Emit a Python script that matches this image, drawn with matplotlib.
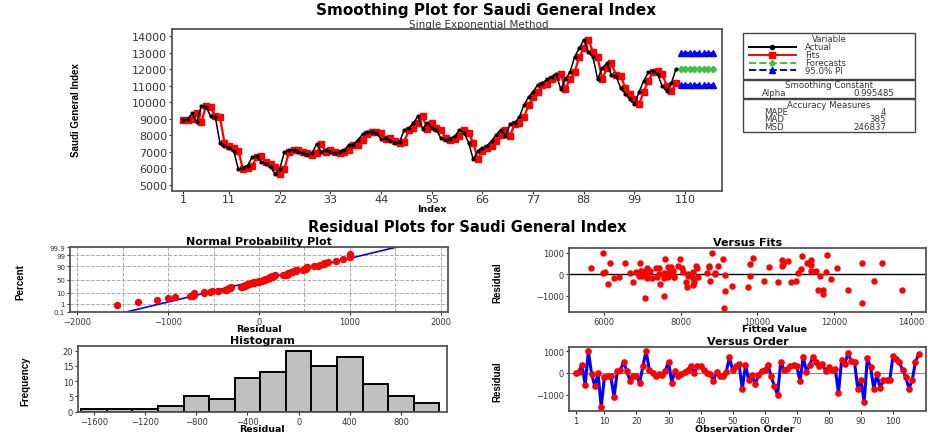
import numpy as np
import matplotlib.pyplot as plt
from matplotlib.patches import Rectangle
from matplotlib.lines import Line2D
from statistics import NormalDist

W, H = 929, 435

# Saudi General Index, observations 1..108
actual = [8900, 8960, 9340, 8800, 9800, 9740, 9140, 9120, 7560, 7380,
          7240, 7080, 5960, 6040, 6160, 6680, 6750, 6390, 6270, 6110,
          5660, 5980, 6980, 7120, 7120, 6980, 6920, 6830, 6940, 7460,
          7010, 7120, 6970, 6920, 6970, 7120, 7430, 7430, 7740, 8070,
          8190, 8190, 8130, 7780, 7820, 7680, 7560, 7600, 8320, 8430,
          8740, 9150, 8390, 8760, 8440, 8330, 7810, 7700, 7790, 7940,
          8320, 8160, 7550, 6550, 7070, 7210, 7370, 7680, 8040, 8350,
          7970, 8690, 8750, 9100, 9820, 10310, 10640, 11050, 11130, 11390,
          11530, 11700, 10780, 11390, 11810, 12730, 13250, 13760, 13040, 12720,
          11390, 12070, 12350, 11630, 11570, 10860, 10520, 10180, 9870, 10630,
          11280, 11800, 11910, 11710, 10990, 10660, 11150, 12000]

alpha = 0.995485
n_forecast = 8
pi_half = 950
accuracy = [("MAPE", "4"), ("MAD", "385"), ("MSD", "246837")]

ord_ticks = [1, 10, 20, 30, 40, 50, 60, 70, 80, 90, 100]
idx_ticks = [1, 11, 22, 33, 44, 55, 66, 77, 88, 99, 110]
prob_ticks = [0.1, 1, 10, 50, 90, 99, 99.9]

# single exponential smoothing
fits = [actual[0]]
for a in actual[:-1]:
    fits.append(fits[-1] + alpha * (a - fits[-1]))
fits = np.array(fits)
actual = np.array(actual, dtype=float)
resid = actual - fits
level = fits[-1] + alpha * (actual[-1] - fits[-1])
n = len(actual)
idx = np.arange(1, n + 1)
fc_idx = np.arange(n + 1, n + 1 + n_forecast)

TICK_C = '#333333'
FRAME_C = '#555555'
narrow = ['Liberation Sans Narrow', 'Liberation Sans', 'DejaVu Sans']

fig = plt.figure(figsize=(W / 100, H / 100), dpi=100)
fig.patch.set_facecolor('white')


def px_axes(l, t, r, b):
    return fig.add_axes([l / W, 1 - b / H, (r - l) / W, (b - t) / H])


def style(ax, fs):
    for s in ax.spines.values():
        s.set_color(FRAME_C)
        s.set_linewidth(1.3)
    ax.tick_params(labelsize=fs, colors=TICK_C, length=2.5, width=0.8, pad=1)


def ylab(x, y, text):
    fig.text(x / W, 1 - y / H, text, rotation=90, ha='center', va='center',
             family=narrow, fontweight='bold', fontsize=7)


def xlab(x, y, text):
    fig.text(x / W, 1 - y / H, text, ha='center', va='center',
             fontweight='bold', fontsize=6.8)


# ---- smoothing plot ----
ax = px_axes(172, 30, 722, 192)
ax.plot(idx, fits, color='red', lw=1.6, marker='s', ms=5, zorder=2)
ax.plot(idx, actual, color='black', lw=1.1, marker='o', ms=2.0, zorder=3)
ax.plot(fc_idx, [level] * n_forecast, color='#40c040', ls='--', lw=1.6,
        marker='D', ms=3.2)
ax.plot(fc_idx, [level + pi_half] * n_forecast, color='blue', ls='--', lw=1.6,
        marker='^', ms=3.8)
ax.plot(fc_idx, [level - pi_half] * n_forecast, color='blue', ls='--', lw=1.6,
        marker='^', ms=3.8)
ax.set_xlim(-1.39, 118.0)
ax.set_ylim(4640, 14420)
ax.set_yticks(range(5000, 14001, 1000))
ax.set_xticks(idx_ticks)
style(ax, 8)
ax.tick_params(axis='x', length=2, pad=0.5)
xlab(432, 210, 'Index')
ylab(76, 110, 'Saudi General Index')
fig.text(486 / W, 1 - 10.5 / H, 'Smoothing Plot for Saudi General Index',
         ha='center', va='center', fontsize=11, fontweight='bold')
fig.text(479 / W, 1 - 25 / H, 'Single Exponential Method',
         ha='center', va='center', fontsize=7.5, color='#333333')

# ---- legend / summary boxes ----
lax = px_axes(738, 30, 920, 136)
lax.set_xlim(738, 920)
lax.set_ylim(136, 30)
lax.axis('off')
for t, b in [(34, 80), (81, 99), (100, 133)]:
    lax.add_patch(Rectangle((743, t), 172, b - t, fill=False, ec='#444444', lw=1))
fs_leg = 6.2
lax.text(829, 40, 'Variable', ha='center', va='center', fontsize=fs_leg, color='#333')
rows = [('Actual', 'black', '-', 'o', 3), ('Fits', 'red', '-', 's', 4),
        ('Forecasts', '#40c040', '--', 'D', 3), ('95.0% PI', 'blue', '--', '^', 4)]
for k, (lab, c, ls, m, ms) in enumerate(rows):
    y = 48 + k * 7.8
    lax.add_line(Line2D([749, 796], [y, y], color=c, ls=ls, lw=1.4))
    lax.add_line(Line2D([772], [y], color=c, marker=m, ms=ms))
    lax.text(805, y, lab, ha='left', va='center', fontsize=fs_leg, color='#333')
lax.text(829, 86, 'Smoothing Constant', ha='center', va='center', fontsize=fs_leg, color='#333')
lax.text(762, 93.5, 'Alpha', ha='left', va='center', fontsize=fs_leg, color='#333')
lax.text(894, 93.5, f'{alpha:.6f}', ha='right', va='center', fontsize=fs_leg, color='#333')
lax.text(829, 105.5, 'Accuracy Measures', ha='center', va='center', fontsize=fs_leg, color='#333')
for k, (lab, val) in enumerate(accuracy):
    y = 112.5 + k * 7.3
    lax.text(764, y, lab, ha='left', va='center', fontsize=fs_leg, color='#333')
    lax.text(886, y, val, ha='right', va='center', fontsize=fs_leg, color='#333')

fig.text(467 / W, 1 - 228 / H, 'Residual Plots for Saudi General Index',
         ha='center', va='center', fontsize=10.5, fontweight='bold')

# ---- normal probability plot ----
nd = NormalDist()
ax = px_axes(70, 248, 448, 313)
z = [nd.inv_cdf((i - 0.3) / (n + 0.4)) for i in idx]
mu, sd = resid.mean(), resid.std(ddof=1)
zz = np.array([-3.5, 3.5])
for v in range(-2000, 2001, 500):
    ax.axvline(v, color='#aaaaaa', ls='--', lw=0.7, zorder=0)
for p in prob_ticks:
    ax.axhline(nd.inv_cdf(p / 100), color='#aaaaaa', ls='--', lw=0.7, zorder=0)
ax.plot(mu + sd * zz, zz, color='blue', lw=1.2, zorder=2)
ax.scatter(np.sort(resid), z, color='red', s=18, zorder=3)
ax.set_xlim(-2080, 2080)
ax.set_ylim(nd.inv_cdf(0.001) - 0.03, nd.inv_cdf(0.999) + 0.03)
ax.set_xticks([-2000, -1000, 0, 1000, 2000])
ax.set_yticks([nd.inv_cdf(p / 100) for p in prob_ticks])
ax.set_yticklabels([f'{p:g}' for p in prob_ticks])
style(ax, 6)
ax.tick_params(axis='y', labelsize=5)
ax.set_title('Normal Probability Plot', fontsize=8, fontweight='bold', pad=2)
xlab(259, 330, 'Residual')
ylab(20, 282, 'Percent')

# ---- versus fits ----
ax = px_axes(569, 249, 926, 313)
ax.scatter(fits, resid, color='red', s=13, zorder=3)
ax.axhline(0, color='black', lw=1)
ax.set_xlim(5090, 14390)
ax.set_ylim(-1760, 1230)
ax.set_xticks([6000, 8000, 10000, 12000, 14000])
ax.set_yticks([-1000, 0, 1000])
style(ax, 6)
ax.set_title('Versus Fits', fontsize=8, fontweight='bold', pad=2)
xlab(775, 330, 'Fitted Value')
ylab(497, 283, 'Residual')

# ---- histogram ----
ax = px_axes(78, 347, 447, 413)
ax.hist(resid, bins=np.arange(-1700, 1101, 200), color='#c0c0c0',
        edgecolor='black', lw=1.4)
ax.set_xlim(-1725, 1160)
ax.set_ylim(-0.1, 21.5)
ax.set_xticks(range(-1600, 801, 400))
ax.set_yticks([0, 5, 10, 15, 20])
style(ax, 6)
ax.set_title('Histogram', fontsize=8, fontweight='bold', pad=2)
xlab(262, 430, 'Residual')
ylab(25, 381, 'Frequency')

# ---- versus order ----
ax = px_axes(569, 348, 926, 412)
ax.axhline(0, color='#888888', lw=0.8, zorder=1)
ax.plot(idx, resid, color='blue', lw=2.2, marker='o', ms=3.8,
        mfc='red', mec='red', zorder=2)
ax.set_xlim(-1.05, 110.3)
ax.set_ylim(-1750, 1190)
ax.set_xticks(ord_ticks)
ax.set_yticks([-1000, 0, 1000])
style(ax, 6)
ax.set_title('Versus Order', fontsize=8, fontweight='bold', pad=2)
xlab(745, 430, 'Observation Order')
ylab(497, 382, 'Residual')

fig.savefig('out.png', dpi=100)
